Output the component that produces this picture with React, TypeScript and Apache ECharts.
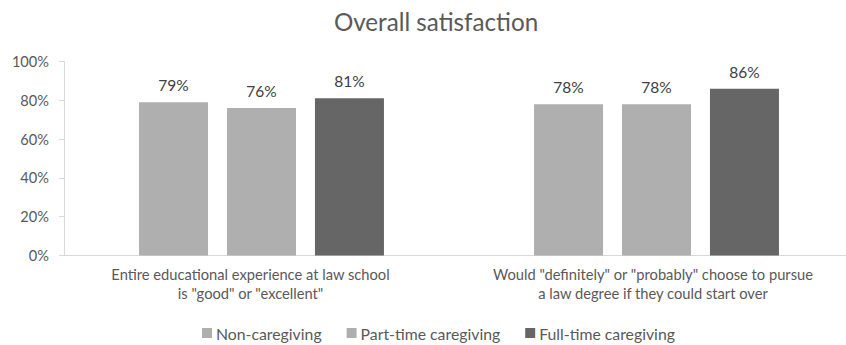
import React, { useEffect, useRef } from "react";
import * as echarts from "echarts";

const categories = [
  'Entire educational experience at law school\nis "good" or "excellent"',
  'Would "definitely" or "probably" choose to pursue\na law degree if they could start over',
];
const seriesNames = ["Non-caregiving", "Part-time caregiving", "Full-time caregiving"];
const nonCaregiving = [79, 78];
const partTimeCaregiving = [76, 78];
const fullTimeCaregiving = [81, 86];
const seriesColors = ["#afafaf", "#afafaf", "#666666"];
const yTicks = [0, 20, 40, 60, 80, 100];

const FONT = "Lato, 'Open Sans', sans-serif";

const catLabelStyle = {
  fontFamily: FONT,
  fontSize: 14.7,
  color: "#595959",
  lineHeight: 19,
};

export default function App() {
  const ref = useRef<HTMLDivElement>(null);

  useEffect(() => {
    document.body.style.margin = "0";
    if (!ref.current) return;
    const chart = echarts.init(ref.current, undefined, { renderer: "svg" });
    const values = [nonCaregiving, partTimeCaregiving, fullTimeCaregiving];
    chart.setOption({
      animation: false,
      backgroundColor: "#ffffff",
      textStyle: { fontFamily: FONT },
      title: {
        text: "Overall satisfaction",
        left: 436,
        textAlign: "center",
        top: 9,
        padding: 0,
        textStyle: { fontFamily: FONT, fontSize: 24.2, fontWeight: "normal", color: "#595959" },
      },
      legend: {
        data: seriesNames,
        top: 325,
        left: 202,
        padding: 0,
        itemWidth: 10,
        itemHeight: 10,
        itemGap: 25,
        icon: "rect",
        textStyle: { fontFamily: FONT, fontSize: 15.8, color: "#595959", padding: [0, 0, 0, -1] },
      },
      grid: { left: 64, right: 0, top: 61.5, bottom: 89.5, containLabel: false },
      xAxis: {
        type: "category",
        data: categories,
        axisLine: { lineStyle: { color: "#d9d9d9", width: 1 } },
        axisTick: { show: false },
        axisLabel: {
          ...catLabelStyle,
          margin: 9,
          interval: 0,
          formatter: (v: string, idx: number) =>
            v
              .split("\n")
              .map((line) => `{${idx === 0 ? "a" : "b"}|${line}}`)
              .join("\n"),
          rich: {
            a: { ...catLabelStyle, padding: [0, 22, 0, 0] },
            b: { ...catLabelStyle, padding: [0, 7, 0, 0] },
          },
        },
      },
      yAxis: {
        type: "value",
        min: 0,
        max: 100,
        interval: 20,
        axisLine: { show: true, lineStyle: { color: "#d9d9d9", width: 1 } },
        axisTick: { show: true, length: 5, lineStyle: { color: "#d9d9d9" } },
        splitLine: { show: false },
        axisLabel: {
          fontFamily: FONT,
          fontSize: 14.6,
          color: "#595959",
          margin: 15,
          formatter: (v: number) => (yTicks.includes(v) ? v + "%" : ""),
        },
      },
      series: seriesNames.map((name, i) => ({
        name,
        type: "bar",
        data: values[i],
        barGap: "27.5%",
        barCategoryGap: "38%",
        itemStyle: { color: seriesColors[i] },
        label: {
          show: true,
          position: "top",
          distance: 9,
          formatter: (p: any) => p.value + "%",
          fontFamily: FONT,
          fontSize: 15.5,
          color: "#404040",
        },
      })),
    });
    return () => chart.dispose();
  }, []);

  return (
    <div style={{ width: 846, height: 345, overflow: "hidden", position: "relative" }}>
      <div ref={ref} style={{ width: 854, height: 345 }} />
    </div>
  );
}
